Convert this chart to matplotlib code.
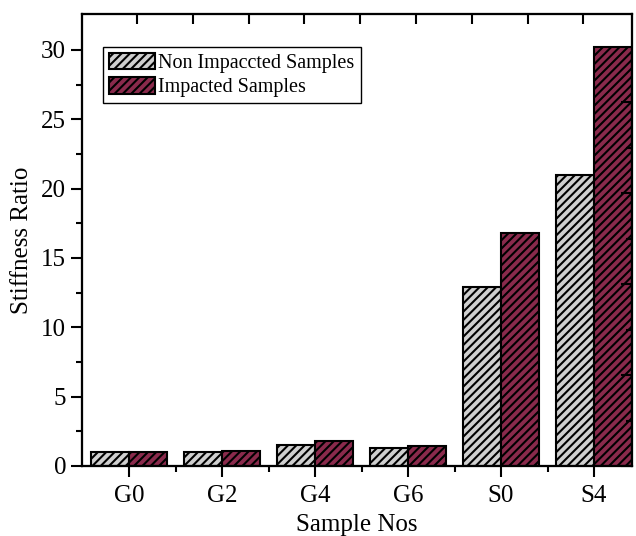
import matplotlib
matplotlib.use('Agg')
import matplotlib.pyplot as plt
import numpy as np

plt.rcParams['font.family'] = ['Liberation Serif', 'DejaVu Serif']
plt.rcParams['hatch.linewidth'] = 1.5

samples = ['G0', 'G2', 'G4', 'G6', 'S0', 'S4']
non_impacted = [1.0, 1.0, 1.5, 1.3, 12.9, 21.0]
impacted = [1.0, 1.1, 1.8, 1.45, 16.8, 30.2]

x = np.arange(len(samples))
width = 0.41

fig = plt.figure(figsize=(6.36, 5.36), dpi=100)
ax = fig.add_axes([0.129, 0.1306, 0.865, 0.8434])

ax.bar(x - width / 2, non_impacted, width, color='#cfcfcf', edgecolor='black',
       hatch='////', linewidth=1.5, label='Non Impaccted Samples')
ax.bar(x + width / 2, impacted, width, color='#8a2a4c', edgecolor='black',
       hatch='////', linewidth=1.5, label='Impacted Samples')

ax.set_xlim(-0.505, 5.41)
ax.set_ylim(0, 32.6)
ax.set_xticks(x)
ax.set_xticklabels(samples)
ax.set_xticks(x[:-1] + 0.5, minor=True)
ax.set_yticks(np.arange(0, 31, 5))
ax.set_yticks(np.arange(2.5, 31, 5), minor=True)

ax.tick_params(axis='both', which='major', labelsize=18, length=8, width=1.5,
               direction='out', top=False, right=False)
ax.tick_params(axis='both', which='minor', length=4, width=1.5, direction='out',
               top=False, right=False)
ax.tick_params(axis='x', which='major', pad=6)

ax.set_xlabel('Sample Nos', fontsize=18, labelpad=5)
ax.set_ylabel('Stiffness Ratio', fontsize=18, labelpad=6)

for s in ax.spines.values():
    s.set_linewidth(1.5)

# top and right axes carry their own inward ticks
top = ax.twiny()
top.set_xlim(ax.get_xlim())
top.set_xticks(0.086 + 0.6 * np.arange(9))
top.set_xticklabels([])
top.tick_params(axis='x', direction='in', length=7, width=1.5)

right = ax.twinx()
right.set_ylim(ax.get_ylim())
right.set_yticks(6.56 * np.arange(5))
right.set_yticks(6.56 * np.arange(4) + 3.28, minor=True)
right.set_yticklabels([])
right.tick_params(axis='y', which='major', direction='in', length=8, width=1.5)
right.tick_params(axis='y', which='minor', direction='in', length=4, width=1.5)
for s in list(top.spines.values()) + list(right.spines.values()):
    s.set_linewidth(1.5)

ax.legend(loc='upper left', bbox_to_anchor=(0.162, 0.913),
          bbox_transform=fig.transFigure, fontsize=14.5, frameon=True,
          fancybox=False, edgecolor='black', framealpha=1,
          handlelength=2.3, handleheight=0.9, handletextpad=0.15,
          labelspacing=0.2, borderpad=0.3, borderaxespad=0)

fig.savefig('out.png', dpi=100)
